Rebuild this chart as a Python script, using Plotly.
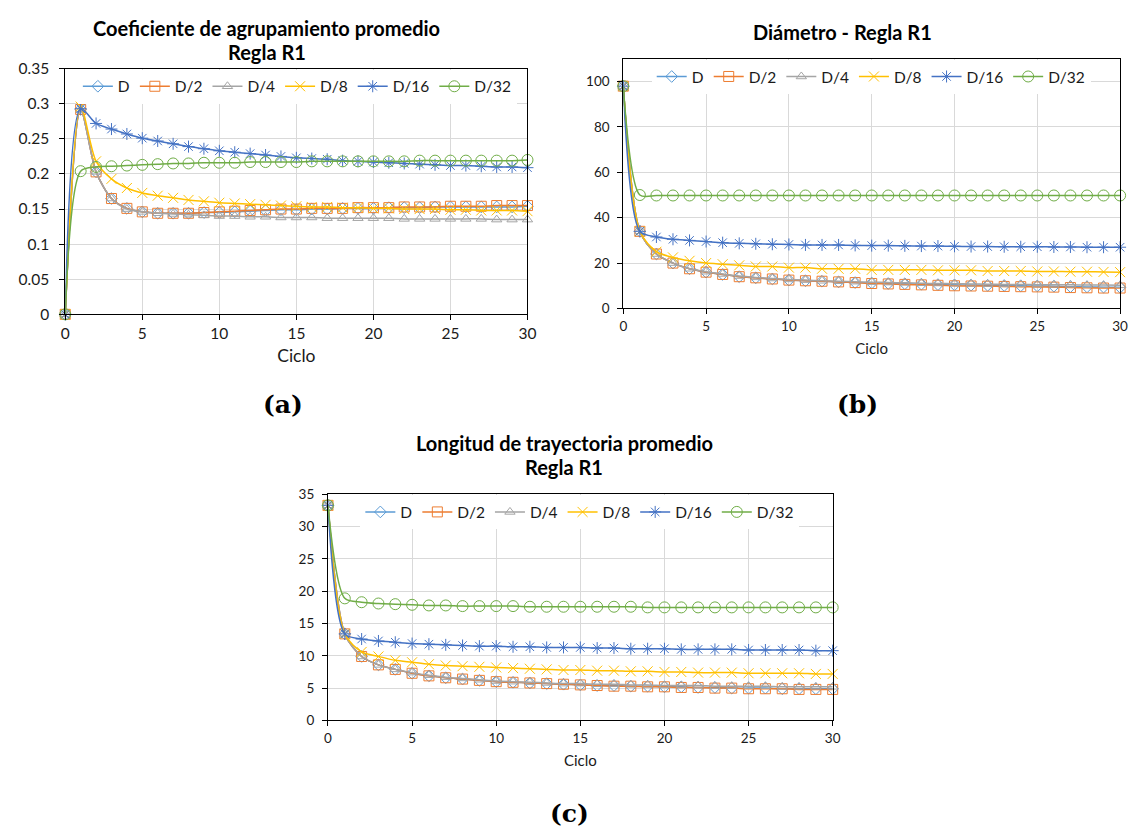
import plotly.graph_objects as go

ciclo = list(range(31))
series_names = ["D", "D/2", "D/4", "D/8", "D/16", "D/32"]

# (a) Coeficiente de agrupamiento promedio
coef_D = [0, 0.292, 0.203, 0.165, 0.151, 0.146, 0.144, 0.144, 0.144, 0.145, 0.145, 0.146, 0.147, 0.148, 0.149, 0.149,
          0.150, 0.150, 0.151, 0.151, 0.151, 0.152, 0.152, 0.152, 0.153, 0.153, 0.153, 0.153, 0.153, 0.153, 0.154]
coef_D2 = [0, 0.292, 0.203, 0.165, 0.151, 0.146, 0.144, 0.144, 0.144, 0.145, 0.146, 0.147, 0.148, 0.149, 0.150, 0.150,
           0.151, 0.151, 0.151, 0.152, 0.152, 0.152, 0.153, 0.153, 0.153, 0.154, 0.154, 0.154, 0.155, 0.155, 0.155]
coef_D4 = [0, 0.292, 0.203, 0.165, 0.150, 0.146, 0.144, 0.143, 0.142, 0.141, 0.140, 0.140, 0.139, 0.139, 0.138, 0.138,
           0.138, 0.137, 0.137, 0.137, 0.137, 0.137, 0.136, 0.136, 0.136, 0.136, 0.136, 0.136, 0.135, 0.135, 0.135]
coef_D8 = [0, 0.296, 0.218, 0.193, 0.180, 0.173, 0.169, 0.166, 0.163, 0.161, 0.159, 0.158, 0.157, 0.156, 0.155, 0.154,
           0.153, 0.153, 0.152, 0.152, 0.151, 0.151, 0.150, 0.150, 0.150, 0.149, 0.149, 0.148, 0.148, 0.148, 0.147]
coef_D16 = [0, 0.293, 0.272, 0.264, 0.257, 0.251, 0.247, 0.243, 0.239, 0.236, 0.233, 0.231, 0.229, 0.227, 0.225, 0.223,
            0.222, 0.221, 0.219, 0.218, 0.217, 0.216, 0.215, 0.214, 0.213, 0.212, 0.212, 0.211, 0.210, 0.210, 0.209]
coef_D32 = [0, 0.204, 0.210, 0.211, 0.212, 0.213, 0.214, 0.215, 0.215, 0.216, 0.216, 0.216, 0.217, 0.217, 0.217, 0.217,
            0.218, 0.218, 0.218, 0.218, 0.218, 0.218, 0.218, 0.219, 0.219, 0.219, 0.219, 0.219, 0.219, 0.219, 0.220]

# (b) Diámetro
diam_D = [98, 34, 24, 20, 17.5, 16, 15, 14, 13.5, 13, 12.5, 12.2, 12, 11.7, 11.4, 11.2, 11, 10.9, 10.7, 10.5, 10.4,
          10.3, 10.2, 10.1, 10, 9.9, 9.8, 9.6, 9.5, 9.4, 9.3]
diam_D2 = [98, 34, 24, 20, 17.5, 16, 15, 14, 13.5, 13, 12.5, 12.2, 12, 11.7, 11.4, 11, 10.8, 10.6, 10.4, 10.2, 10,
           9.9, 9.8, 9.7, 9.6, 9.5, 9.4, 9.2, 9.1, 9, 9]
diam_D4 = [98, 34, 24, 20, 17.5, 16.2, 15.2, 14.3, 13.7, 13.2, 12.8, 12.5, 12.2, 12, 11.8, 11.6, 11.4, 11.3, 11.1, 11,
           10.9, 10.8, 10.7, 10.6, 10.6, 10.5, 10.4, 10.4, 10.3, 10.3, 10.2]
diam_D8 = [98, 34, 25, 22.5, 21, 20, 19.5, 19, 18.5, 18.5, 18, 18, 17.5, 17.5, 17.5, 17, 17, 17, 17, 16.8, 16.8,
           16.8, 16.5, 16.5, 16.5, 16.3, 16.3, 16.2, 16.2, 16.1, 16]
diam_D16 = [98, 34, 31.5, 30.5, 30, 29.5, 29, 28.7, 28.5, 28.3, 28.2, 28, 28, 28, 27.8, 27.7, 27.7, 27.6, 27.5, 27.5,
            27.4, 27.3, 27.3, 27.2, 27.2, 27.2, 27.1, 27.1, 27, 27, 27]
diam_D32 = [98, 50, 49.8, 49.8, 49.8, 49.8, 49.8, 49.8, 49.8, 49.8, 49.8, 49.8, 49.8, 49.8, 49.8, 49.8, 49.8, 49.8,
            49.8, 49.8, 49.8, 49.8, 49.8, 49.8, 49.8, 49.8, 49.8, 49.8, 49.8, 49.8, 49.8]

# (c) Longitud de trayectoria promedio
long_D = [33.3, 13.4, 9.9, 8.6, 7.9, 7.3, 6.9, 6.6, 6.4, 6.2, 6.0, 5.9, 5.8, 5.7, 5.6, 5.5, 5.4, 5.4, 5.3, 5.3, 5.2,
          5.2, 5.1, 5.1, 5.0, 5.0, 5.0, 4.9, 4.9, 4.9, 4.9]
long_D2 = [33.3, 13.4, 9.9, 8.6, 7.9, 7.3, 6.9, 6.6, 6.4, 6.2, 6.0, 5.9, 5.8, 5.7, 5.6, 5.5, 5.4, 5.3, 5.3, 5.2, 5.2,
           5.1, 5.1, 5.0, 5.0, 4.9, 4.9, 4.9, 4.8, 4.8, 4.8]
long_D4 = [33.3, 13.4, 9.9, 8.6, 7.9, 7.4, 7.0, 6.7, 6.5, 6.3, 6.1, 6.0, 5.9, 5.8, 5.7, 5.7, 5.6, 5.6, 5.5, 5.5, 5.4,
           5.4, 5.4, 5.3, 5.3, 5.3, 5.3, 5.2, 5.2, 5.2, 5.2]
long_D8 = [33.3, 13.4, 10.6, 9.9, 9.3, 9.0, 8.7, 8.5, 8.4, 8.3, 8.2, 8.1, 8.0, 7.9, 7.8, 7.8, 7.7, 7.7, 7.6, 7.6, 7.5,
           7.5, 7.4, 7.4, 7.4, 7.3, 7.3, 7.3, 7.3, 7.2, 7.2]
long_D16 = [33.3, 13.4, 12.6, 12.3, 12.1, 11.9, 11.8, 11.7, 11.6, 11.5, 11.5, 11.4, 11.4, 11.3, 11.3, 11.3, 11.2, 11.2,
            11.1, 11.1, 11.1, 11.0, 11.0, 11.0, 11.0, 10.9, 10.9, 10.9, 10.9, 10.8, 10.8]
long_D32 = [33.3, 18.9, 18.3, 18.1, 18.0, 17.9, 17.8, 17.8, 17.7, 17.7, 17.7, 17.7, 17.6, 17.6, 17.6, 17.6, 17.6, 17.6,
            17.6, 17.5, 17.5, 17.5, 17.5, 17.5, 17.5, 17.5, 17.5, 17.5, 17.5, 17.5, 17.5]

colors = ["#5B9BD5", "#ED7D31", "#A5A5A5", "#FFC000", "#4472C4", "#70AD47"]
symbols = ["diamond-open", "square-open", "triangle-up-open", "x-thin-open", "asterisk-open", "circle-open"]
msizes = [9, 10, 9, 10, 10, 11]

FONT = "Lato"
TXT = "#1a1a1a"

panels = [
    (dict(x="x", y="y", legend="legend"), [coef_D, coef_D2, coef_D4, coef_D8, coef_D16, coef_D32]),
    (dict(x="x2", y="y2", legend="legend2"), [diam_D, diam_D2, diam_D4, diam_D8, diam_D16, diam_D32]),
    (dict(x="x3", y="y3", legend="legend3"), [long_D, long_D2, long_D4, long_D8, long_D16, long_D32]),
]

fig = go.Figure()
for refs, data in panels:
    for name, vals, c, s, ms in zip(series_names, data, colors, symbols, msizes):
        fig.add_trace(go.Scatter(
            x=ciclo, y=vals, name=name, mode="lines+markers",
            xaxis=refs["x"], yaxis=refs["y"], legend=refs["legend"],
            line=dict(color=c, width=1.5, shape="spline", smoothing=0.8),
            marker=dict(symbol=s, size=ms, color=c, line=dict(color=c, width=1)),
            cliponaxis=False,
        ))

axis_common = dict(showgrid=True, gridcolor="#D9D9D9", gridwidth=1, showline=True, linecolor="#000000",
                   linewidth=1, mirror=True, ticks="outside", ticklen=5, tickcolor="#000000", zeroline=False)

def xax(domain, anchor, fs, tfs, standoff):
    d = dict(axis_common)
    d.update(domain=domain, anchor=anchor, range=[0, 30], dtick=5, tick0=0,
             title=dict(text="Ciclo", font=dict(family=FONT, size=tfs, color=TXT), standoff=standoff),
             tickfont=dict(family=FONT, size=fs, color=TXT))
    return d

def yax(domain, anchor, rng, dt, fs, standoff):
    d = dict(axis_common)
    d.update(domain=domain, anchor=anchor, range=rng, dtick=dt, tick0=0,
             tickfont=dict(family=FONT, size=fs, color=TXT), ticklabelstandoff=standoff)
    return d

W, H = 1138, 838
def px_x(p): return p / W
def px_y(p): return 1 - p / H

def legend_at(xc, ytop, fs):
    return dict(orientation="h", bgcolor="white", font=dict(family=FONT, size=fs, color=TXT),
                xanchor="center", yanchor="top", itemwidth=30, tracegroupgap=0,
                x=px_x(xc), y=px_y(ytop))

fig.update_layout(
    width=W, height=H, margin=dict(l=0, r=0, t=0, b=0),
    paper_bgcolor="white", plot_bgcolor="white",
    xaxis=xax([px_x(61), px_x(529)], "y", 15.5, 17.5, 8),
    yaxis=yax([px_y(311), px_y(60)], "x", [0, 0.35], 0.05, 15.5, 7),
    xaxis2=xax([px_x(626), px_x(1129)], "y2", 13.5, 15, 10),
    yaxis2=yax([px_y(305), px_y(50)], "x2", [0, 110], 20, 13.5, 5),
    xaxis3=xax([px_x(327), px_x(838)], "y3", 13.5, 15, 10),
    yaxis3=yax([px_y(726), px_y(495)], "x3", [0, 35], 5, 13.5, 5),
    legend=legend_at(296, 61, 15.5),
    legend2=legend_at(877, 51, 15.5),
    legend3=legend_at(582, 496, 15.5),
    showlegend=True,
)

title_font = dict(family=FONT, size=20, color="#000000")
cap_font = dict(family="DejaVu Serif", size=25, color="#000000")
annots = [
    dict(text="<b>Coeficiente de agrupamiento promedio</b>", x=px_x(265), y=px_y(18), font=title_font),
    dict(text="<b>Regla R1</b>", x=px_x(265), y=px_y(43), font=title_font),
    dict(text="<b>Diámetro - Regla R1</b>", x=px_x(848), y=px_y(22), font=title_font),
    dict(text="<b>Longitud de trayectoria promedio</b>", x=px_x(566), y=px_y(442), font=title_font),
    dict(text="<b>Regla R1</b>", x=px_x(566), y=px_y(467), font=title_font),
    dict(text="<b>(a)</b>", x=px_x(281), y=px_y(403), font=cap_font),
    dict(text="<b>(b)</b>", x=px_x(863), y=px_y(403), font=cap_font),
    dict(text="<b>(c)</b>", x=px_x(572), y=px_y(821), font=cap_font),
]
for a in annots:
    fig.add_annotation(xref="paper", yref="paper", xanchor="center", yanchor="middle", showarrow=False, **a)

fig.write_html("out.html")
